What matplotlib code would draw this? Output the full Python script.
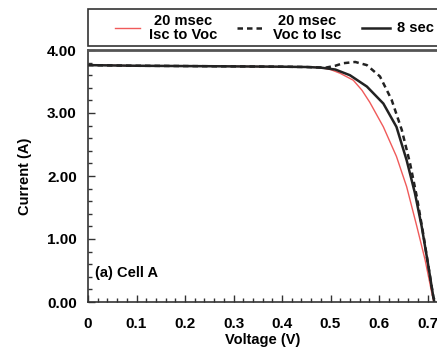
import matplotlib
matplotlib.use("Agg")
import matplotlib.pyplot as plt
from matplotlib.ticker import MultipleLocator, FixedLocator
from matplotlib.lines import Line2D
from matplotlib.patches import Rectangle

plt.rcParams['font.family'] = ['Liberation Sans', 'DejaVu Sans']

# 20 msec, Isc to Voc (red)
v_red = [0.0, 0.1, 0.2, 0.3, 0.4, 0.45, 0.48, 0.50, 0.52, 0.547, 0.565, 0.581, 0.609, 0.636, 0.657, 0.678, 0.695, 0.709, 0.713]
i_red = [3.76, 3.75, 3.745, 3.74, 3.735, 3.73, 3.72, 3.69, 3.63, 3.52, 3.36, 3.17, 2.78, 2.31, 1.83, 1.20, 0.67, 0.14, 0.0]

# 20 msec, Voc to Isc (dashed)
v_dash = [0.0, 0.1, 0.2, 0.3, 0.4, 0.45, 0.49, 0.51, 0.526, 0.551, 0.575, 0.602, 0.626, 0.647, 0.664, 0.678, 0.691, 0.702, 0.712, 0.716]
i_dash = [3.76, 3.75, 3.745, 3.74, 3.735, 3.73, 3.72, 3.75, 3.79, 3.81, 3.76, 3.58, 3.21, 2.73, 2.20, 1.67, 1.09, 0.56, 0.08, 0.0]

# 8 sec (solid black)
v_blk = [0.0, 0.1, 0.2, 0.3, 0.4, 0.45, 0.48, 0.51, 0.540, 0.575, 0.609, 0.636, 0.657, 0.674, 0.688, 0.702, 0.712, 0.714]
i_blk = [3.76, 3.75, 3.745, 3.74, 3.735, 3.73, 3.72, 3.69, 3.60, 3.42, 3.15, 2.78, 2.25, 1.73, 1.20, 0.56, 0.08, 0.0]

labels = ["20 msec\nIsc to Voc", "20 msec\nVoc to Isc", "8 sec"]
xticks = [0, 0.1, 0.2, 0.3, 0.4, 0.5, 0.6, 0.7]
xticklabels = ["0", "0.1", "0.2", "0.3", "0.4", "0.5", "0.6", "0.7"]
yticks = [0, 1, 2, 3, 4]
yticklabels = ["0.00", "1.00", "2.00", "3.00", "4.00"]

W, H = 437, 348
fig = plt.figure(figsize=(W/100, H/100), dpi=100)
ax = fig.add_axes([88/W, 46/H, 1 - 88/W, (302-50)/H])

styles = [dict(color='#f05a5a', lw=1.0, ls='-'),
          dict(color='#222222', lw=1.8, ls=(0, (2.2, 1.6))),
          dict(color='#222222', lw=1.8, ls='-')]
series = [(v_red, i_red), (v_dash, i_dash), (v_blk, i_blk)]
for (v, i), st, lab in zip(series, styles, labels):
    ax.plot(v, i, label=lab, **st)

ax.set_xlim(0, (W-88)/485)
ax.set_ylim(0, 4.0)
ax.xaxis.set_major_locator(FixedLocator(xticks))
ax.set_xticklabels(xticklabels, fontweight='bold', fontsize=11)
ax.xaxis.set_minor_locator(MultipleLocator(0.02))
ax.yaxis.set_major_locator(FixedLocator(yticks))
ax.set_yticklabels(yticklabels, fontweight='bold', fontsize=11)
ax.yaxis.set_minor_locator(MultipleLocator(0.2))
ax.tick_params(which='both', direction='in', color='#333333', width=1.0)
ax.tick_params(which='major', length=5)
ax.tick_params(which='minor', length=3)
ax.tick_params(axis='x', which='major', pad=11)
ax.tick_params(axis='y', which='major', pad=8)

for s in ['left', 'bottom']:
    ax.spines[s].set_color('#333333')
    ax.spines[s].set_linewidth(1.2)
ax.spines['right'].set_visible(False)
ax.spines['top'].set_color('#555555')
ax.spines['top'].set_linewidth(2.0)

ax.set_xlabel("Voltage (V)", fontsize=10.5, fontweight='bold', labelpad=1)
ax.set_ylabel("Current (A)", fontsize=10.5, fontweight='bold', labelpad=11)
ax.text(0.015, 0.455, "(a) Cell A", fontsize=10.5, fontweight='bold', ha='left', va='center')

# legend box (figure coordinates from top-left pixels)
fig.patches.append(Rectangle((88/W, 1 - 46/H), 1.0, 37/H, transform=fig.transFigure,
                             facecolor='white', edgecolor='#333333', lw=1.2))
line_spans = [(115, 140), (237, 265), (362, 390)]
text_x = [183, 307, 397]
text_ha = ['center', 'center', 'left']
ly = 1 - 28/H
for (x0, x1), tx, ha, st, lab in zip(line_spans, text_x, text_ha, styles, labels):
    fig.lines.append(Line2D([x0/W, x1/W], [ly, ly], transform=fig.transFigure, **st))
    fig.text(tx/W, ly, lab, ha=ha, va='center', ma='center', fontsize=10.5,
             fontweight='bold', linespacing=0.95)

fig.savefig("out.png", dpi=100)
